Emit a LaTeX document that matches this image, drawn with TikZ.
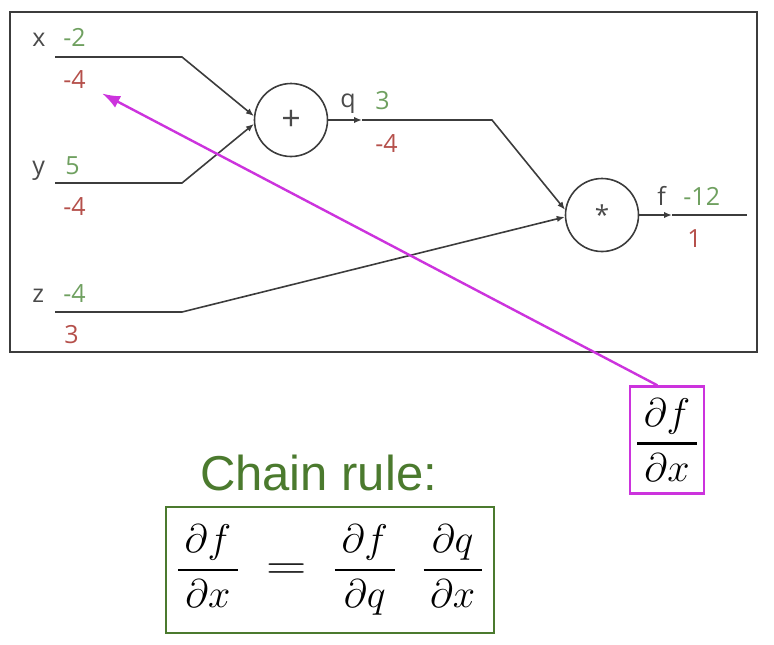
\RequirePackage{fix-cm}
\documentclass[tikz,border=0pt]{standalone}
\usepackage{amsmath}
\usepackage{graphicx}
\usepackage{fontspec}
\setmainfont{Open Sans}
\newfontfamily\rulefont{Liberation Sans}
\usetikzlibrary{arrows.meta}

\definecolor{wiregray}{HTML}{3C3C3C}
\definecolor{labelgray}{HTML}{4A4A4A}
\definecolor{fwdgreen}{HTML}{6FA060}
\definecolor{gradred}{HTML}{B5504B}
\definecolor{rulegreen}{HTML}{4B7A2E}
\definecolor{gradpink}{HTML}{CC33DD}

% a fraction with a heavier bar
\newcommand{\pfrac}[2]{\genfrac{}{}{1.3pt}{0}{\,#1\,}{\,#2\,}}

\tikzset{
    wire/.style={draw=wiregray, line width=0.8pt},
    op/.style={circle, draw=wiregray, line width=0.8pt, minimum size=36.5pt,
        inner sep=0pt, text=labelgray, font=\fontsize{17}{19}\selectfont},
    var/.style={anchor=base west, inner sep=0pt, text=labelgray,
        font=\fontsize{12.5}{14}\selectfont},
    fwd/.style={var, text=fwdgreen},
    grad/.style={var, text=gradred},
    gradarrow/.style={draw=gradpink, line width=1.2pt,
        -{Latex[length=9pt,width=6.5pt]}, shorten >=9pt}
}

\begin{document}
\begin{tikzpicture}[x=0.5pt,y=-0.5pt,>={Latex[length=4pt,width=3.2pt]}]
    \useasboundingbox (0,0) rectangle (774,644);

    % the frame round the circuit
    \draw[draw=wiregray, line width=0.75pt] (10,12) rectangle (757,352);

    % the two gates
    \node[op] (plus) at (291,120) {+};
    \node[op, font=\fontsize{13}{15}\selectfont] (times) at (602,215) {\raisebox{-.35em}{*}};

    % inputs, their values and gradients
    \node[var] (xname) at (32,46) {x};
    \node[fwd] (xval) at (63,46) {-2};
    \node[grad] (gx) at (63,88) {-4};

    \node[var] (yname) at (32,174) {y};
    \node[fwd] (yval) at (65,174) {5};
    \node[grad] (gy) at (63,215) {-4};

    \node[var] (zname) at (32,302) {z};
    \node[fwd] (zval) at (63,302) {-4};
    \node[grad] (gz) at (64,343) {3};

    % intermediate and output
    \node[var] (qname) at (340,107) {q};
    \node[fwd] (qval) at (375,109) {3};
    \node[grad] (gq) at (375,152) {-4};

    \node[var] (fname) at (657,205) {f};
    \node[fwd] (fval) at (683,205) {-12};
    \node[grad] (gf) at (687,247) {1};

    % the wires
    \coordinate (xin) at (55,57);
    \coordinate (xbend) at (182,57);
    \coordinate (yin) at (55,183);
    \coordinate (ybend) at (182,183);
    \coordinate (zin) at (55,312);
    \coordinate (zbend) at (182,312);
    \coordinate (qarr) at (362,120);
    \coordinate (qbend) at (492,120);
    \coordinate (farr) at (672,215);
    \coordinate (fout) at (747,215);

    \draw[wire,->] (xin) -- (xbend) -- (plus.174);
    \draw[wire,->] (yin) -- (ybend) -- (plus.186);
    \draw[wire,->] (zin) -- (zbend) -- (times.183);
    \draw[wire,->] (plus.east) -- (qarr);
    \draw[wire,->] (qarr) -- (qbend) -- (times.172);
    \draw[wire,->] (times.east) -- (farr);
    \draw[wire] (farr) -- (fout);

    % the chain rule
    \node[anchor=base, inner sep=0pt, text=rulegreen,
        font=\rulefont\fontsize{24.5}{28}\selectfont] (rule) at (318.5,490) {Chain rule:};
    \node[draw=rulegreen, line width=1pt, minimum width=164pt, minimum height=63pt,
        inner sep=0pt, font=\fontsize{20}{24}\selectfont] (chain) at (330,570)
        {$\pfrac{\partial f}{\partial x}\hspace{13pt}\scalebox{1.4}[1.1]{$=$}\hspace{13pt}
          \pfrac{\partial f}{\partial q}\hspace{12pt}
          \pfrac{\partial q}{\partial x}$};

    % the local gradient asked for
    \node[draw=gradpink, line width=1.2pt, minimum width=37pt, minimum height=53.5pt,
        inner sep=0pt, font=\fontsize{20}{24}\selectfont] (dfdx) at (667,440)
        {$\pfrac{\partial f}{\partial x}$};
    \draw[gradarrow] (dfdx.100) -- (gx);
\end{tikzpicture}
\end{document}
